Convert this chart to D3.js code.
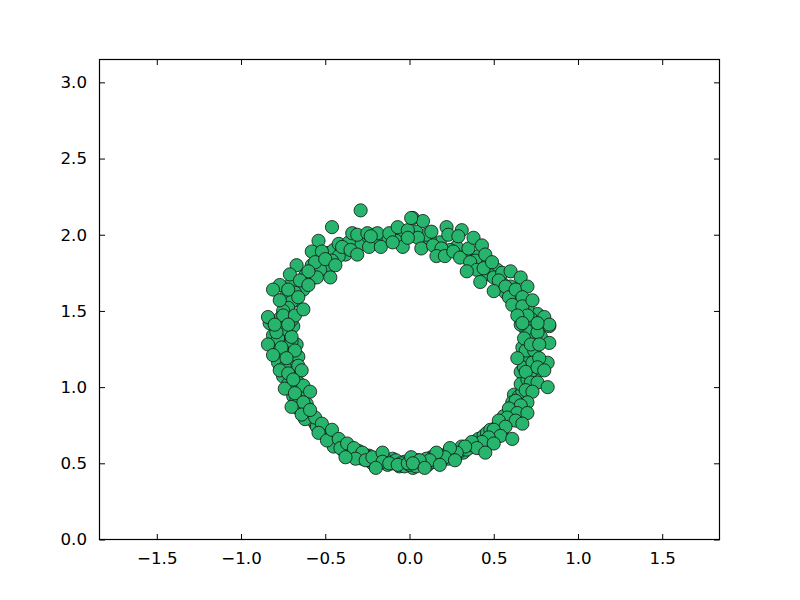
<!DOCTYPE html>
<html>
<head>
<meta charset="utf-8">
<script src="https://cdn.jsdelivr.net/npm/d3@7"></script>
<style>
  body { margin: 0; background: #fff; }
  svg { display: block; }
</style>
</head>
<body>
<svg id="chart" width="800" height="600"></svg>
<script>
var xTicks = [-1.5, -1.0, -0.5, 0.0, 0.5, 1.0, 1.5];
var yTicks = [0.0, 0.5, 1.0, 1.5, 2.0, 2.5, 3.0];

// points, grouped by part of the ring
var upperLeft = [
  [-0.29, 2.16], [-0.46, 2.05], [-0.54, 1.96], [-0.58, 1.89], [-0.52, 1.89],
  [-0.56, 1.82], [-0.50, 1.84], [-0.44, 1.80], [-0.47, 1.72], [-0.55, 1.72],
  [-0.60, 1.76], [-0.67, 1.80], [-0.71, 1.74], [-0.65, 1.70], [-0.60, 1.67],
  [-0.77, 1.67], [-0.81, 1.64], [-0.72, 1.64], [-0.66, 1.59], [-0.77, 1.57],
  [-0.84, 1.46], [-0.75, 1.47], [-0.68, 1.47], [-0.63, 1.51], [-0.80, 1.41],
  [-0.72, 1.41], [-0.40, 1.92], [-0.34, 2.01], [-0.31, 2.00], [-0.25, 2.01],
  [-0.19, 2.01], [-0.35, 1.90], [-0.31, 1.87], [-0.24, 1.92], [-0.23, 1.99],
  [-0.17, 1.92], [-0.12, 2.01], [-0.07, 2.05], [-0.01, 2.03], [0.01, 2.11],
  [-0.04, 1.92], [-0.10, 1.95], [-0.01, 1.98]
];
var upperRight = [
  [0.02, 2.11], [0.08, 2.09], [0.05, 1.98], [0.13, 2.02], [0.07, 1.91],
  [0.14, 1.93], [0.22, 2.05], [0.23, 2.00], [0.31, 2.03], [0.29, 1.99],
  [0.19, 1.91], [0.16, 1.86], [0.21, 1.86], [0.26, 1.89], [0.30, 1.85],
  [0.35, 1.91], [0.38, 1.98], [0.43, 1.93], [0.45, 1.87], [0.36, 1.82],
  [0.40, 1.77], [0.34, 1.76], [0.42, 1.69], [0.44, 1.78], [0.49, 1.82],
  [0.50, 1.72], [0.55, 1.75], [0.53, 1.70], [0.60, 1.76], [0.66, 1.72],
  [0.50, 1.63], [0.57, 1.66], [0.59, 1.59], [0.63, 1.64], [0.70, 1.66],
  [0.67, 1.59], [0.61, 1.54], [0.67, 1.53], [0.70, 1.47], [0.73, 1.57],
  [0.64, 1.47], [0.67, 1.42], [0.80, 1.46], [0.83, 1.41], [0.76, 1.42]
];
var lowerRight = [
  [0.66, 1.41], [0.83, 1.40], [0.68, 1.32], [0.76, 1.36], [0.83, 1.29],
  [0.72, 1.28], [0.77, 1.28], [0.64, 1.19], [0.73, 1.16], [0.82, 1.16],
  [0.77, 1.19], [0.69, 1.10], [0.76, 1.13], [0.80, 1.11], [0.72, 1.03],
  [0.76, 1.03], [0.82, 1.00], [0.69, 0.98], [0.73, 0.97], [0.63, 0.91],
  [0.70, 0.90], [0.66, 0.88], [0.59, 0.86], [0.64, 0.83], [0.70, 0.83],
  [0.58, 0.80], [0.63, 0.78], [0.53, 0.78], [0.57, 0.74], [0.67, 0.76],
  [0.50, 0.72], [0.54, 0.68], [0.61, 0.66], [0.47, 0.67], [0.43, 0.64],
  [0.50, 0.63], [0.37, 0.64], [0.40, 0.60], [0.33, 0.61], [0.28, 0.57],
  [0.24, 0.60], [0.21, 0.54], [0.16, 0.57], [0.12, 0.52], [0.06, 0.52],
  [0.02, 0.50], [0.27, 0.52], [0.45, 0.57], [0.09, 0.47], [0.18, 0.49]
];
var lowerLeft = [
  [-0.83, 1.42], [-0.79, 1.36], [-0.70, 1.33], [-0.84, 1.28], [-0.76, 1.26],
  [-0.68, 1.24], [-0.81, 1.21], [-0.73, 1.19], [-0.66, 1.14], [-0.77, 1.11],
  [-0.72, 1.09], [-0.64, 1.11], [-0.74, 0.99], [-0.63, 1.01], [-0.69, 1.05],
  [-0.68, 0.96], [-0.59, 0.97], [-0.63, 0.90], [-0.70, 0.87], [-0.64, 0.82],
  [-0.56, 0.80], [-0.59, 0.85], [-0.52, 0.76], [-0.54, 0.70], [-0.49, 0.65],
  [-0.46, 0.72], [-0.42, 0.66], [-0.41, 0.60], [-0.37, 0.63], [-0.33, 0.60],
  [-0.28, 0.57], [-0.32, 0.53], [-0.26, 0.52], [-0.22, 0.54], [-0.16, 0.57],
  [-0.16, 0.51], [-0.12, 0.50], [-0.07, 0.49], [-0.01, 0.50], [0.01, 0.54],
  [-0.20, 0.47], [-0.38, 0.54]
];
var bandFill = [
  [-0.74, 1.38], [-0.70, 1.30], [-0.78, 1.32], [-0.74, 1.22], [-0.70, 1.18],
  [-0.78, 1.16], [-0.66, 1.20], [-0.74, 1.13], [-0.68, 1.08], [-0.72, 1.02],
  [-0.66, 1.03], [-0.70, 0.99], [-0.64, 0.95], [-0.67, 0.92], [-0.61, 0.89],
  [-0.66, 0.86], [-0.60, 0.82], [-0.57, 0.78], [-0.62, 0.79], [-0.55, 0.74],
  [-0.51, 0.72], [-0.50, 0.69], [-0.47, 0.67], [-0.44, 0.64], [-0.45, 0.61],
  [-0.40, 0.62], [-0.39, 0.58], [-0.35, 0.57], [-0.34, 0.55], [-0.30, 0.55],
  [-0.30, 0.58], [-0.26, 0.55], [-0.24, 0.52], [-0.20, 0.52], [-0.18, 0.50],
  [-0.14, 0.52], [-0.10, 0.50], [-0.08, 0.52], [-0.05, 0.50], [-0.03, 0.48],
  [0.00, 0.49], [0.04, 0.48], [0.05, 0.52], [0.08, 0.50], [0.10, 0.53],
  [0.14, 0.51], [0.15, 0.54], [0.19, 0.52], [0.22, 0.56], [0.25, 0.55],
  [0.26, 0.58], [0.30, 0.58], [0.31, 0.61], [0.34, 0.59], [0.36, 0.62],
  [0.39, 0.63], [0.41, 0.66], [0.44, 0.68], [0.46, 0.70], [0.48, 0.72],
  [0.52, 0.74], [0.55, 0.76], [0.56, 0.81], [0.60, 0.82], [0.62, 0.86],
  [0.61, 0.90], [0.65, 0.94], [0.67, 0.97], [0.66, 1.02], [0.70, 1.05],
  [0.68, 1.13], [0.72, 1.10], [0.71, 1.20], [0.69, 1.24], [0.74, 1.24],
  [0.70, 1.32], [0.73, 1.34], [0.69, 1.38], [0.72, 1.45], [0.66, 1.50],
  [0.70, 1.52], [0.64, 1.56], [0.62, 1.60], [0.57, 1.62], [0.55, 1.68],
  [0.47, 1.74], [0.45, 1.80], [0.39, 1.83], [0.33, 1.88], [0.28, 1.92],
  [0.24, 1.90], [0.18, 1.95], [0.12, 1.97], [0.10, 2.00], [0.04, 2.02],
  [0.00, 1.99], [-0.05, 2.00], [-0.08, 1.96], [-0.14, 1.98], [-0.20, 1.96],
  [-0.26, 1.95], [-0.30, 1.93], [-0.36, 1.95], [-0.38, 1.87], [-0.42, 1.86],
  [-0.46, 1.83], [-0.48, 1.78], [-0.53, 1.77], [-0.57, 1.72], [-0.62, 1.70],
  [-0.63, 1.64], [-0.68, 1.62], [-0.70, 1.56], [-0.72, 1.52], [-0.75, 1.50],
  [-0.77, 1.45], [-0.70, 1.44]
];
var denseFill = [
  [-0.45, 0.66], [-0.43, 0.62], [-0.36, 0.60], [-0.32, 0.57], [-0.28, 0.53],
  [-0.24, 0.55], [-0.22, 0.50], [-0.18, 0.53], [-0.13, 0.49], [-0.10, 0.53],
  [-0.06, 0.48], [-0.03, 0.51], [0.02, 0.47], [0.06, 0.49], [0.11, 0.49],
  [0.13, 0.54], [0.17, 0.52], [0.20, 0.55], [0.23, 0.53], [0.28, 0.55],
  [0.32, 0.57], [0.35, 0.60], [0.38, 0.61], [0.42, 0.62], [0.46, 0.65],
  [0.49, 0.68], [0.51, 0.70], [0.55, 0.72], [0.58, 0.77],
  [-0.56, 0.76], [-0.58, 0.80], [-0.62, 0.84], [-0.65, 0.90], [-0.69, 0.94],
  [-0.66, 0.98], [-0.71, 1.05], [-0.75, 1.07], [-0.70, 1.12], [-0.76, 1.20],
  [-0.79, 1.25], [-0.72, 1.26], [-0.67, 1.28], [-0.75, 1.31], [-0.81, 1.34],
  [-0.73, 1.35], [-0.77, 1.40], [-0.69, 1.40],
  [-0.74, 1.55], [-0.68, 1.57], [-0.73, 1.60], [-0.66, 1.65], [-0.70, 1.68],
  [-0.62, 1.73], [-0.58, 1.80], [-0.52, 1.81], [-0.55, 1.86], [-0.49, 1.88],
  [-0.45, 1.90], [-0.42, 1.94], [-0.33, 1.97], [-0.28, 1.98], [-0.21, 2.00],
  [-0.16, 1.97],
  [0.62, 0.95], [0.68, 1.00], [0.74, 1.07], [0.66, 1.10], [0.70, 1.16],
  [0.75, 1.20], [0.67, 1.26], [0.74, 1.30], [0.78, 1.33], [0.71, 1.40],
  [0.76, 1.48], [0.68, 1.56], [0.60, 1.66], [0.52, 1.77], [0.41, 1.86]
];

function buildChart() {
  var left = 99.5, right = 719.5, top = 59.5, bottom = 539.5;
  var tickLen = 5.5;
  var chart = d3.select("#chart");

  var x = d3.scaleLinear().domain([-1.84, 1.84]).range([left, right]);
  var y = d3.scaleLinear().domain([0, 3.15]).range([bottom, top]);

  var points = denseFill.concat(bandFill, lowerLeft, lowerRight, upperRight, upperLeft);

  chart
    .append("g")
    .selectAll("circle")
    .data(points)
    .enter()
    .append("circle")
    .attr("cx", function (d) {
      return x(d[0]);
    })
    .attr("cy", function (d) {
      return y(d[1]);
    })
    .attr("r", 6.6)
    .attr("fill", "#27b46d")
    .attr("stroke", "#111")
    .attr("stroke-width", 0.8);

  var fmt = function (v) {
    return d3.format(".1f")(v).replace("-", "\u2212");
  };

  // inward ticks on all four sides, labels on bottom and left
  var bottomAxis = d3.axisBottom(x).tickValues(xTicks).tickSize(-tickLen).tickPadding(tickLen + 7).tickFormat(fmt);
  var topAxis = d3.axisTop(x).tickValues(xTicks).tickSize(-tickLen).tickFormat("");
  var leftAxis = d3.axisLeft(y).tickValues(yTicks).tickSize(-tickLen).tickPadding(tickLen + 7).tickFormat(fmt);
  var rightAxis = d3.axisRight(y).tickValues(yTicks).tickSize(-tickLen).tickFormat("");

  var axes = [
    [bottomAxis, "translate(0," + bottom + ")"],
    [topAxis, "translate(0," + top + ")"],
    [leftAxis, "translate(" + left + ",0)"],
    [rightAxis, "translate(" + right + ",0)"]
  ];
  axes.forEach(function (a) {
    var g = chart.append("g").attr("transform", a[1]).call(a[0]);
    g.select(".domain").remove();
    g.selectAll(".tick line").attr("stroke", "#000").attr("stroke-width", 1);
    g.selectAll("text")
      .attr("fill", "#000")
      .style("font-family", "'DejaVu Sans', sans-serif")
      .style("font-size", "16.67px");
  });

  chart
    .append("rect")
    .attr("x", left)
    .attr("y", top)
    .attr("width", right - left)
    .attr("height", bottom - top)
    .attr("fill", "none")
    .attr("stroke", "#000")
    .attr("stroke-width", 1.2);
}

buildChart();
</script>
</body>
</html>
